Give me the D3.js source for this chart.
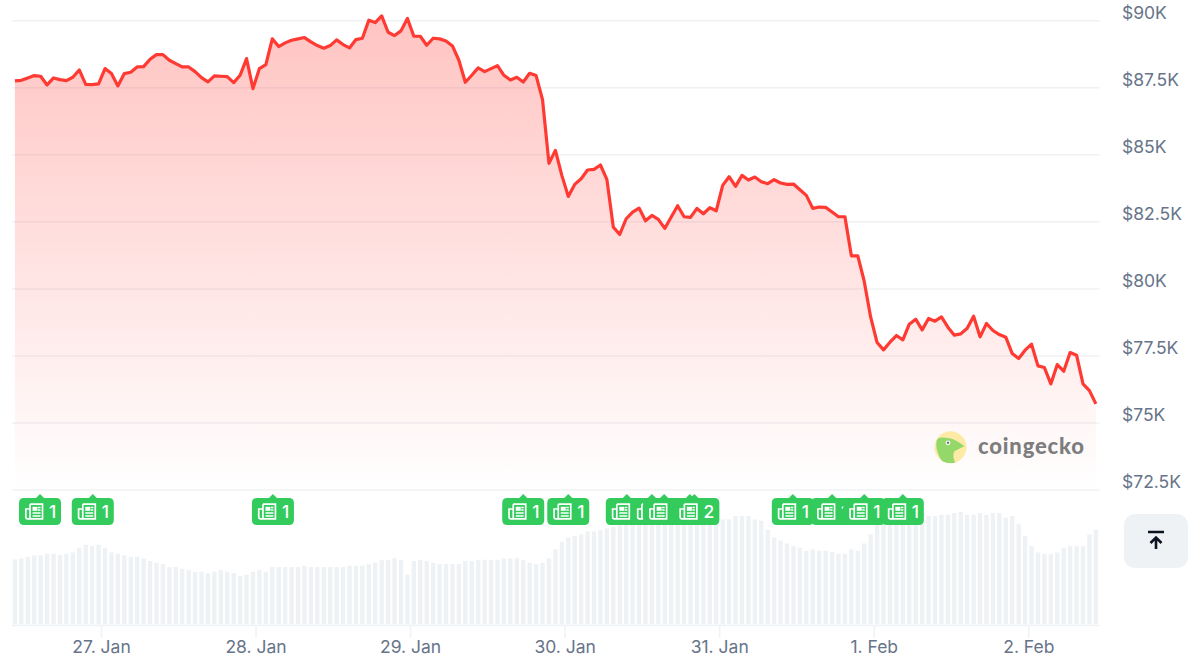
<!DOCTYPE html>
<html><head><meta charset="utf-8">
<script src="https://cdn.jsdelivr.net/npm/d3@7/dist/d3.min.js"></script>
<style>html,body{margin:0;padding:0;background:#fff;overflow:hidden}svg{display:block}text{font-family:Inter,"Noto Sans",sans-serif}</style>
</head><body><div id="chart"></div>
<script>
// Data
const prices = [87736,87760,87847,87935,87910,87586,87847,87785,87748,87872,88146,87611,87599,87624,88196,88009,87549,88009,88059,88258,88270,88544,88718,88718,88507,88382,88258,88258,88084,87860,87698,87922,87910,87897,87673,87947,88569,87449,88196,88345,89303,89017,89154,89253,89303,89353,89191,89054,88955,89054,89266,89091,88967,89278,89328,89999,89911,90161,89552,89427,
89602,90062,89402,89402,89067,89328,89303,89228,89042,88507,87686,87947,88221,88084,88196,88308,87947,87773,87872,87698,88022,87935,87039,84663,85148,84215,83431,83879,84091,84414,84439,84601,84066,82287,82013,82598,82847,82996,82523,82722,82573,82237,82660,83083,82673,82648,82983,82784,83008,82896,83842,84165,83804,84215,84041,84153,83979,83904,84053,83929,83879,83892,
83680,83469,82984,83034,83021,82847,82673,82673,81217,81217,80260,78928,77983,77709,77995,78244,78082,78667,78854,78456,78879,78779,78941,78555,78257,78306,78518,78966,78194,78692,78431,78281,78182,77572,77386,77697,77921,77112,77050,76440,77162,76913,77610,77510,76440,76192,75694];
const volumes = [195,198,203,207,207,212,212,208,212,216,230,239,235,239,230,216,212,207,203,203,198,190,185,181,172,172,167,163,158,158,154,158,163,158,154,145,149,158,163,158,172,172,172,172,172,176,172,172,172,172,172,172,176,176,176,181,185,194,194,198,
194,149,190,194,190,185,181,181,181,181,190,190,194,194,194,194,198,198,198,194,185,181,185,198,225,248,261,266,270,279,279,284,288,293,297,299,301,303,303,305,305,305,305,305,305,305,305,305,307,311,315,315,325,325,325,315,311,284,261,252,243,235,
230,221,225,221,221,217,212,212,225,221,243,270,298,303,305,308,311,313,315,318,325,325,329,329,334,338,329,329,334,329,334,334,320,325,302,266,235,216,212,212,216,230,235,235,235,270,284];
const priceTicks = [90000,87500,85000,82500,80000,77500,75000,72500];
const dateTicks = ["2026-01-27","2026-01-28","2026-01-29","2026-01-30","2026-01-31","2026-02-01","2026-02-02"];
const startTime = "2026-01-26T10:38:00Z";
const stepMinutes = 59.95;
const newsHours = [3.9,12.1,40.1,79.0,86.0,95.1,99.0,100.9,104.9,105.6,120.9,127.0,132.0,138.0];
const newsCounts = [1,1,1,1,1,1,1,1,1,2,1,1,1,1];

const W=1194,H=664;
const t0=new Date(startTime).getTime();
const timeAt=h=>new Date(t0+h*stepMinutes*60000);
const times=prices.map((_,i)=>timeAt(i));
const tickDates=dateTicks.map(d=>new Date(d+"T00:00:00Z"));

const x=d3.scaleUtc().domain([tickDates[0],tickDates[6]]).range([101,1028.3]);
const y=d3.scaleLinear().domain([72500,90000]).range([489.6,20.2]);
const yV=d3.scaleLinear().domain([0,330]).range([624.4,514.4]);

const svg=d3.select("#chart").append("svg").attr("width",W).attr("height",H);
const defs=svg.append("defs");
const lg=defs.append("linearGradient").attr("id","areaFill").attr("gradientUnits","userSpaceOnUse")
  .attr("x1",0).attr("x2",0).attr("y1",y(90161)).attr("y2",y(72500));
lg.append("stop").attr("offset",0).attr("stop-color","#ff3a33").attr("stop-opacity",0.3);
lg.append("stop").attr("offset",1).attr("stop-color","#ff3a33").attr("stop-opacity",0);

// price axis + grid
const gy=svg.append("g").attr("transform","translate(12,0)")
  .call(d3.axisRight(y).tickValues(priceTicks).tickSize(1087.5).tickPadding(22.5).tickFormat(v=>"$"+(v/1000)+"K"));
gy.select(".domain").remove();
gy.selectAll("line").attr("stroke","#eff2f5").attr("stroke-width",1.5);
gy.selectAll("text").attr("fill","#677489").attr("font-size",17.5).attr("dy","-0.1em")
  .style("font-family","Inter,sans-serif");

// area and line
svg.append("path").datum(prices)
  .attr("d",d3.area().x((d,i)=>x(times[i])).y0(y(72500)).y1(d=>y(d)))
  .attr("fill","url(#areaFill)");

// watermark
const logo=svg.append("g").attr("transform","translate(950.5,447.3)");
defs.append("clipPath").attr("id","logoClip").append("circle").attr("r",16);
logo.append("circle").attr("r",16).attr("fill","#fdeaa4");
logo.append("path").attr("clip-path","url(#logoClip)")
  .attr("d","M-7,16 C-13,8 -15,0 -14,-6 C-13,-11 -7,-10 -1,-9 C4,-8 9,-5 14,-1 C10,1 7,2 4,4 C2,7 3,12 5,16 Z")
  .attr("fill","#94d86a");
logo.append("circle").attr("cx",-2.5).attr("cy",-4.5).attr("r",2.4).attr("fill","#fff");
logo.append("circle").attr("cx",-2.5).attr("cy",-4.5).attr("r",1.2).attr("fill","#6b7a66");
svg.append("text").attr("x",978).attr("y",454).attr("font-size",22).attr("font-weight",900)
  .style("font-family","Lato,sans-serif").attr("fill","#7d7d7d").attr("textLength",106).text("coingecko");

svg.append("path").datum(prices)
  .attr("d",d3.line().x((d,i)=>x(times[i])).y(d=>y(d)))
  .attr("fill","none").attr("stroke","#ff3a33").attr("stroke-width",3.2).attr("stroke-linejoin","round");

// volume bars
svg.append("g").selectAll("rect").data(volumes).join("rect")
  .attr("x",(d,i)=>x(times[i])-2.2).attr("width",4.4)
  .attr("y",d=>yV(d)).attr("height",d=>yV(0)-yV(d)).attr("fill","#eff2f5");

// time axis
const gx=svg.append("g").attr("transform","translate(0,625)")
  .call(d3.axisBottom(x).tickValues(tickDates).tickSize(13).tickPadding(3).tickFormat(d3.utcFormat("%-d. %b")));
gx.select(".domain").attr("d","M12,0.5H1099.6").attr("stroke","#eff2f5").attr("stroke-width",1.5);
gx.selectAll("line").attr("stroke","#eff2f5").attr("stroke-width",1.5);
gx.selectAll("text").attr("fill","#677489").attr("font-size",17.5).style("font-family","Inter,sans-serif");

// news flags
const flags=svg.append("g").selectAll("g").data(newsHours).join("g")
  .attr("transform",d=>`translate(${x(timeAt(d))},0)`);
const flagPath=(w)=>{
  const l=-21,r=l+w,t=498,b=525,c=5;
  return `M${l+c},${t}H-4L0,494L4,${t}H${r-c}Q${r},${t} ${r},${t+c}V${b-c}Q${r},${b} ${r-c},${b}H${l+c}Q${l},${b} ${l},${b-c}V${t+c}Q${l},${t} ${l+c},${t}Z`;
};
flags.append("path").attr("d",(d,i)=>flagPath(newsCounts[i]>1?46:42)).attr("fill","#32cb5c");
// newspaper icon
const ic=flags.append("g").attr("transform","translate(-15,503)");
ic.append("path").attr("d","M5,1.2H17.5V15.8H2.5Q0.8,15.8 0.8,14V6H5").attr("fill","none").attr("stroke","#fff").attr("stroke-width",1.7);
ic.append("path").attr("d","M5,1.2V15").attr("fill","none").attr("stroke","#fff").attr("stroke-width",1.7);
ic.append("rect").attr("x",7.5).attr("y",3.8).attr("width",5).attr("height",4).attr("fill","#fff");
ic.append("path").attr("d","M13,4.5H15.5M13,7H15.5M7.5,10H15.5M7.5,13H15.5").attr("stroke","#fff").attr("stroke-width",1.4);
flags.append("text").attr("x",9).attr("y",518).attr("font-size",17.5).attr("font-weight",500).attr("fill","#fff")
  .text((d,i)=>newsCounts[i]);

// back-to-top button
const btn=svg.append("g");
btn.append("rect").attr("x",1124).attr("y",514).attr("width",64).attr("height",54).attr("rx",11).attr("fill","#eff2f5");
btn.append("path").attr("d","M1148,532H1164M1156,549V537M1150.5,543L1156,537.5L1161.5,543")
  .attr("fill","none").attr("stroke","#0d1421").attr("stroke-width",2.6);
</script></body></html>
